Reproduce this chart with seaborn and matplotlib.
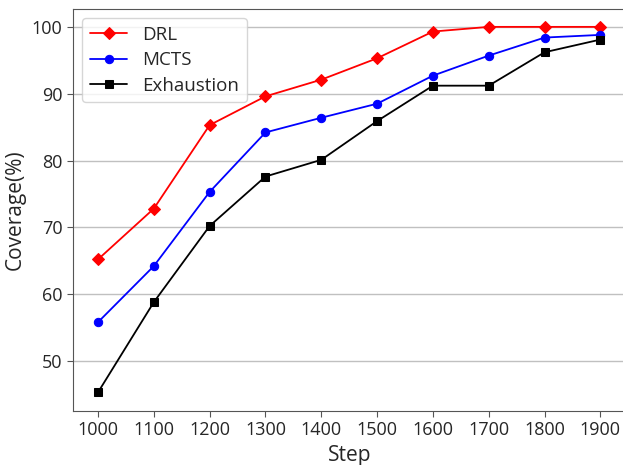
import matplotlib
matplotlib.use("Agg")
import matplotlib.pyplot as plt
import seaborn as sns
import pandas as pd

steps = [1000, 1100, 1200, 1300, 1400, 1500, 1600, 1700, 1800, 1900]
drl = [65.2, 72.8, 85.3, 89.6, 92.1, 95.3, 99.3, 100.0, 100.0, 100.0]
mcts = [55.8, 64.2, 75.3, 84.2, 86.4, 88.5, 92.7, 95.7, 98.4, 98.8]
exhaustion = [45.3, 58.8, 70.2, 77.6, 80.1, 85.9, 91.2, 91.2, 96.2, 98.1]

sns.set_style("white")
plt.rcParams['font.family'] = ['Open Sans', 'DejaVu Sans']

fig = plt.figure(figsize=(6.23, 4.65), dpi=100)
ax = fig.add_axes([0.117, 0.116, 0.887, 0.865])

series = [("DRL", drl, "red", "D"), ("MCTS", mcts, "blue", "o"), ("Exhaustion", exhaustion, "black", "s")]
for name, vals, col, mk in series:
    df = pd.DataFrame({"Step": steps, "Coverage": vals})
    sns.lineplot(data=df, x="Step", y="Coverage", ax=ax, color=col, marker=mk,
                 markersize=6, markeredgecolor=col, linewidth=1.3, label=name)

ax.set_xticks(steps)
ax.set_yticks([50, 60, 70, 80, 90, 100])
ax.tick_params(axis='both', labelsize=13, length=4, direction='out', bottom=True, left=True, color='#555555')
ax.yaxis.grid(True, color='#c0c0c0', linewidth=1)
ax.xaxis.grid(False)
ax.set_xlim(955, 1945)
ax.set_ylim(42.5, 102.7)
ax.set_xlabel("Step", fontsize=15)
ax.set_ylabel("Coverage(%)", fontsize=15)
for s in ax.spines.values():
    s.set_color('#555555')
ax.legend(loc='upper left', fontsize=13.5, frameon=True, handlelength=2.0, labelspacing=0.4)
fig.savefig("out.png", dpi=100)
